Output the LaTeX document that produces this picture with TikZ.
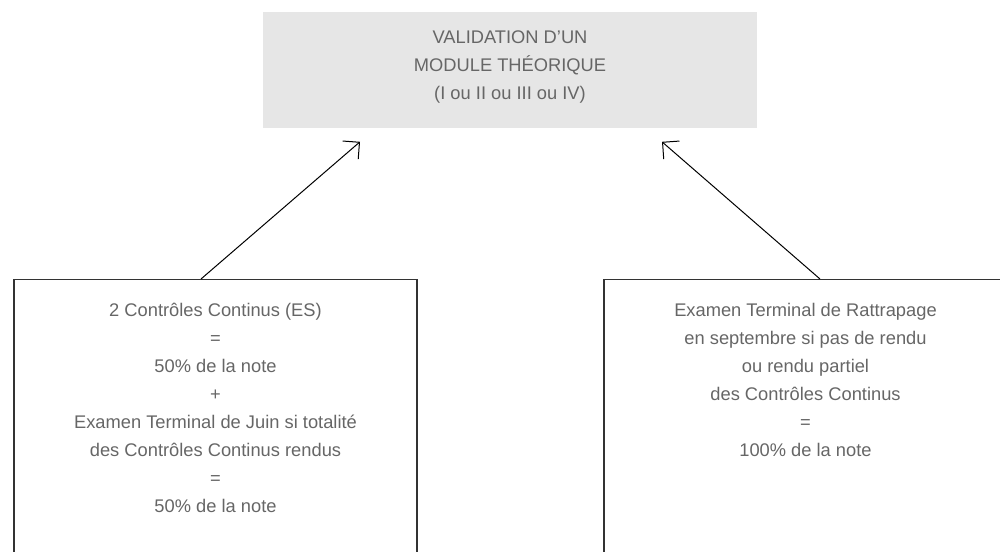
\documentclass[tikz,border=0pt]{standalone}
\usepackage{fontspec}
\setmainfont{Liberation Sans}
\usetikzlibrary{arrows.meta}
\definecolor{boxfill}{HTML}{E6E6E6}
\definecolor{txt}{HTML}{666666}

\begin{document}
\begin{tikzpicture}[x=0.5pt,y=-0.5pt,
 every node/.style={inner sep=0pt},
 frame/.style={draw=black!80,line width=0.7pt,minimum width=201.5pt,
   minimum height=150pt,anchor=north},
 boxtext/.style={align=center,text=txt,anchor=north,
   font=\fontsize{9.15}{14}\selectfont},
 link/.style={-{Straight Barb[length=6pt,width=12pt]},line width=0.5pt}]
\useasboundingbox (0,0) rectangle (1000,551);
\clip (0,0) rectangle (1000,551);
% module box
\node[fill=boxfill,minimum width=247pt,minimum height=58pt,anchor=north]
  (valid) at (510,12) {};
\node[boxtext] (validtxt) at ([yshift=-9pt]valid.north)
  {VALIDATION D’UN\\MODULE THÉORIQUE\\(I ou II ou III ou IV)};
% the two ways
\node[frame] (lbox) at (215.5,279) {};
\node[boxtext] (ltxt) at ([yshift=-12pt]lbox.north)
  {2 Contrôles Continus (ES)\\=\\50\% de la note\\+\\
   Examen Terminal de Juin si totalité\\des Contrôles Continus rendus\\
   =\\50\% de la note};
\node[frame] (rbox) at (805.5,279) {};
\node[boxtext] (rtxt) at ([yshift=-12pt]rbox.north)
  {Examen Terminal de Rattrapage\\en septembre si pas de rendu\\
   ou rendu partiel\\des Contrôles Continus\\=\\100\% de la note};
\draw[link] ([xshift=-7.25pt]lbox.north) -- ([xshift=-75pt,yshift=-6.5pt]valid.south);
\draw[link] ([xshift=7.25pt]rbox.north) -- ([xshift=76pt,yshift=-6.5pt]valid.south);
\end{tikzpicture}
\end{document}
